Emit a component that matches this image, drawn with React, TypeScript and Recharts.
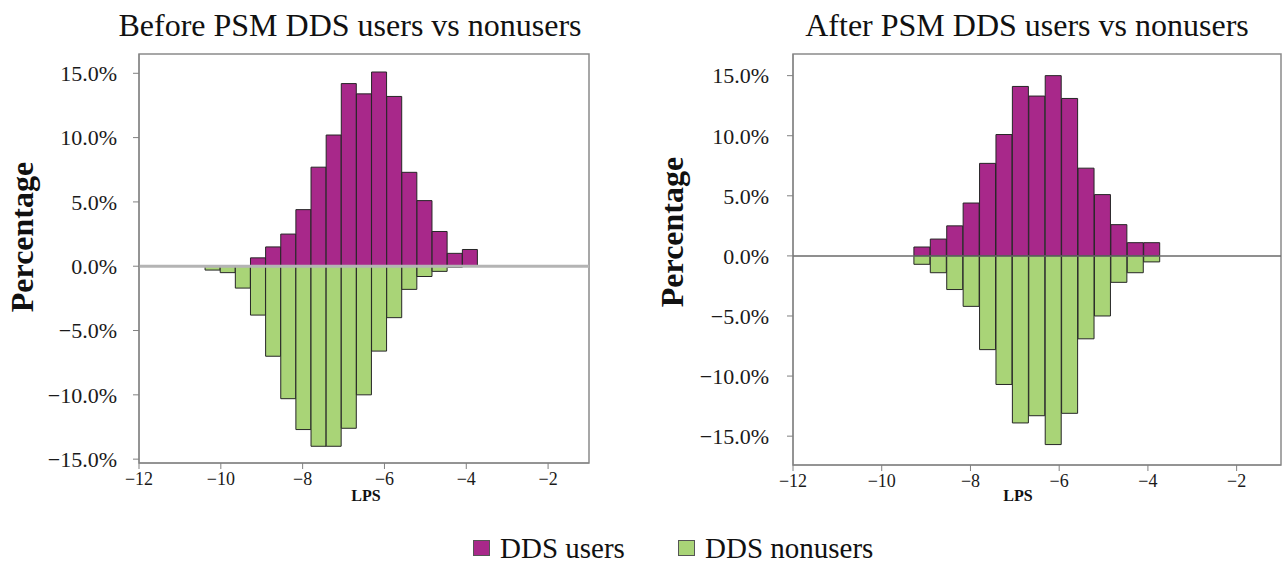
import React from "react";
import { Bar, BarChart, ReferenceArea, ReferenceLine, XAxis, YAxis } from "recharts";

// bin centres on the LPS axis
const lps = [-10.2, -9.83, -9.46, -9.09, -8.72, -8.35, -7.98, -7.61, -7.24, -6.87, -6.5, -6.13, -5.76, -5.39, -5.02, -4.65, -4.28, -3.91];

const beforeUsers = [0, 0, 0, 0.65, 1.5, 2.5, 4.4, 7.7, 10.2, 14.2, 13.4, 15.1, 13.2, 7.3, 5.1, 2.7, 1.0, 1.3];
const beforeNonusers = [-0.3, -0.5, -1.7, -3.8, -7.0, -10.3, -12.7, -14.0, -14.0, -12.6, -10.0, -6.6, -4.0, -1.8, -0.8, -0.4, -0.1, 0];

const afterUsers = [0, 0, 0, 0.74, 1.4, 2.5, 4.4, 7.7, 10.1, 14.1, 13.3, 15.0, 13.1, 7.3, 5.1, 2.6, 1.1, 1.1];
const afterNonusers = [0, 0, 0, -0.7, -1.4, -2.8, -4.2, -7.8, -10.7, -13.9, -13.3, -15.7, -13.1, -6.9, -5.0, -2.2, -1.4, -0.5];

const xTicks = [-12, -10, -8, -6, -4, -2];
const yTicks = [15, 10, 5, 0, -5, -10, -15];
const titles = ["Before PSM DDS users vs nonusers", "After PSM DDS users vs nonusers"];
const legendLabels = ["DDS users", "DDS nonusers"];

const USERS = "#a8288a";
const NONUSERS = "#a9d477";
const SERIF = "Liberation Serif, Times New Roman, serif";

const fmtY = (v: number) => (v < 0 ? "\u2212" : "") + Math.abs(v).toFixed(1) + "%";
const fmtX = (v: number) => (v < 0 ? "\u2212" : "") + Math.abs(v);

type PanelProps = {
  users: number[];
  nonusers: number[];
  width: number;
  yAxisWidth: number;
  right: number;
  xAxisHeight: number;
  yDomain: [number, number];
  tickMargin: number;
  zeroStroke: string;
  zeroWidth: number;
};

function Panel(p: PanelProps) {
  const data = lps.map((x, i) => ({ lps: x, users: p.users[i], nonusers: p.nonusers[i] }));
  return (
    <BarChart
      width={p.width}
      height={520}
      data={data}
      stackOffset="sign"
      barCategoryGap={0}
      barGap={0}
      margin={{ top: 54, right: p.right, bottom: 0, left: 0 }}
    >
      <ReferenceArea
        x1={-12}
        x2={-1}
        y1={p.yDomain[0]}
        y2={p.yDomain[1]}
        fill="none"
        stroke="#8a8a8a"
        strokeWidth={1.5}
      />
      <XAxis
        type="number"
        dataKey="lps"
        domain={[-12, -1]}
        ticks={xTicks}
        interval={0}
        allowDataOverflow
        height={p.xAxisHeight}
        tickSize={6}
        tickMargin={3}
        tickFormatter={fmtX}
        stroke="#808080"
        fontSize={18}
        fontFamily={SERIF}
        tick={{ fill: "#1a1a1a", fontSize: 18, fontFamily: SERIF }}
      />
      <YAxis
        type="number"
        domain={p.yDomain}
        ticks={yTicks}
        interval={0}
        allowDataOverflow
        width={p.yAxisWidth}
        tickSize={6}
        tickMargin={p.tickMargin}
        tickFormatter={fmtY}
        stroke="#808080"
        fontSize={22}
        fontFamily={SERIF}
        tick={{ fill: "#1a1a1a", fontSize: 22, fontFamily: SERIF }}
      />
      <Bar dataKey="users" stackId="s" fill={USERS} stroke="#262626" strokeWidth={1} isAnimationActive={false} />
      <Bar dataKey="nonusers" stackId="s" fill={NONUSERS} stroke="#262626" strokeWidth={1} isAnimationActive={false} />
      <ReferenceLine y={0} stroke={p.zeroStroke} strokeWidth={p.zeroWidth} />
    </BarChart>
  );
}

const abs = (left: number, top: number): React.CSSProperties => ({
  position: "absolute",
  left,
  top,
  whiteSpace: "nowrap",
  fontFamily: SERIF,
  color: "#111",
});

export default function App() {
  return (
    <div
      style={{
        position: "absolute",
        left: 0,
        top: 0,
        width: 1284,
        height: 565,
        background: "#fff",
        overflow: "hidden",
        fontFamily: SERIF,
      }}
    >
      <div style={{ position: "absolute", left: 0, top: 0 }}>
        <Panel
          users={beforeUsers}
          nonusers={beforeNonusers}
          width={640}
          yAxisWidth={139}
          right={51}
          xAxisHeight={57}
          yDomain={[-15.3, 16.5]}
          tickMargin={16}
          zeroStroke="#b4b4b4"
          zeroWidth={3}
        />
      </div>
      <div style={{ position: "absolute", left: 640, top: 0 }}>
        <Panel
          users={afterUsers}
          nonusers={afterNonusers}
          width={644}
          yAxisWidth={153}
          right={3}
          xAxisHeight={55}
          yDomain={[-17.4, 16.8]}
          tickMargin={18}
          zeroStroke="#6a6a6a"
          zeroWidth={1.5}
        />
      </div>

      <div style={{ ...abs(350, 9), fontSize: 32, lineHeight: "32px", transform: "translateX(-50%)" }}>{titles[0]}</div>
      <div style={{ ...abs(1027, 9), fontSize: 32, lineHeight: "32px", transform: "translateX(-50%)" }}>{titles[1]}</div>

      <div style={{ ...abs(22, 237), fontSize: 32, fontWeight: 700, lineHeight: "36px", transform: "translate(-50%, -50%) rotate(-90deg)" }}>
        Percentage
      </div>
      <div style={{ ...abs(672, 232), fontSize: 32, fontWeight: 700, lineHeight: "36px", transform: "translate(-50%, -50%) rotate(-90deg)" }}>
        Percentage
      </div>

      <div style={{ ...abs(366, 496), fontSize: 16, fontWeight: 700, lineHeight: "20px", transform: "translate(-50%, -50%)" }}>LPS</div>
      <div style={{ ...abs(1018, 496), fontSize: 16, fontWeight: 700, lineHeight: "20px", transform: "translate(-50%, -50%)" }}>LPS</div>

      {legendLabels.map((label, i) => (
        <div key={label} style={{ ...abs(i === 0 ? 473 : 678, 537), display: "flex", alignItems: "center" }}>
          <span
            style={{
              display: "inline-block",
              width: 17,
              height: 16,
              marginRight: 10,
              background: i === 0 ? USERS : NONUSERS,
              border: "1px solid #555",
              boxSizing: "border-box",
            }}
          />
          <span style={{ fontSize: 29, lineHeight: "22px" }}>{label}</span>
        </div>
      ))}
    </div>
  );
}
